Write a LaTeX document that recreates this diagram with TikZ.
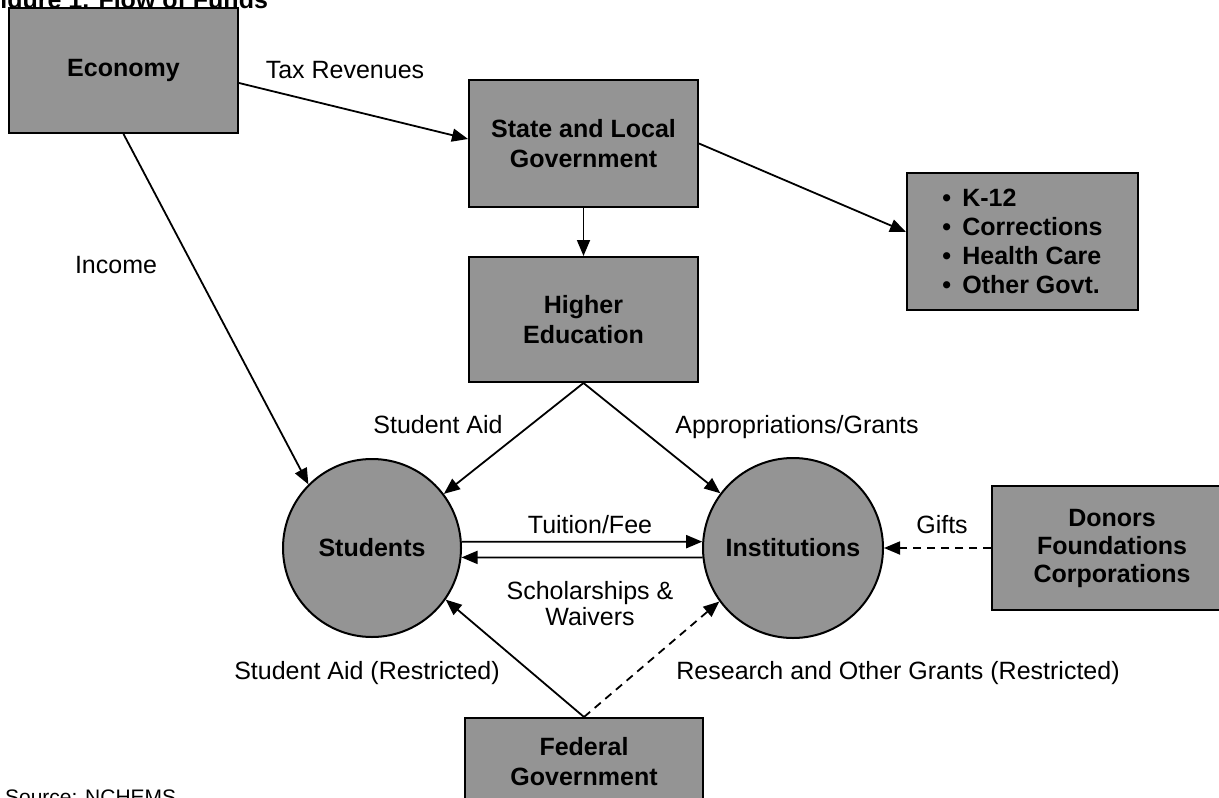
\documentclass[tikz,border=0pt]{standalone}
\usepackage{fontspec}
\setmainfont{Liberation Sans}
\usetikzlibrary{arrows.meta,positioning}
\definecolor{halftone}{gray}{0.58}

\begin{document}
\begin{tikzpicture}[x=0.5pt, y=-0.5pt, >={Triangle[length=8pt,width=6.5pt]},
  every node/.style={font=\fontsize{12.5}{15}\selectfont, align=center},
  fundbox/.style={draw, line width=1pt, fill=halftone, inner sep=2pt, font=\fontsize{12.5}{15}\selectfont\bfseries},
  party/.style={draw, circle, line width=1pt, fill=halftone, minimum size=89pt, inner sep=0pt, font=\fontsize{12.5}{15}\selectfont\bfseries},
  flow/.style={->, line width=0.9pt},
  gift/.style={flow, dash pattern=on 4pt off 3pt}]
  \useasboundingbox (0,0) rectangle (1219,797);
  \clip (0,0) rectangle (1219,797);
  % title and source, cut by the page edge
  \node[anchor=base west, font=\fontsize{12.5}{15}\selectfont\bfseries] (title) at (-22,9) {Figure 1. Flow of Funds};
  \node[anchor=base west, font=\fontsize{10.5}{12}\selectfont] (source) at (-2,804) {Source: NCHEMS};
  % boxes
  \node[fundbox, minimum width=114.5pt, minimum height=62.5pt] (econ) at (123.5,70.5) {Economy};
  \node[fundbox, minimum width=114.5pt, minimum height=63.5pt] (state) at (583.5,143.5) {State and Local\\Government};
  \node[fundbox, minimum width=114.5pt, minimum height=62.5pt, below=24pt of state] (higher) {Higher\\Education};
  \node[fundbox, minimum width=115.5pt, minimum height=68.5pt, align=left, font=\fontsize{12.5}{14.5}\selectfont\bfseries] (other) at (1022.5,241.5)
    {\makebox[10pt][l]{\textbullet}K-12\\\makebox[10pt][l]{\textbullet}Corrections\\\makebox[10pt][l]{\textbullet}Health Care\\\makebox[10pt][l]{\textbullet}Other Govt.};
  \node[fundbox, minimum width=120pt, minimum height=62pt, font=\fontsize{12.5}{14}\selectfont\bfseries] (donors) at (1112,548) {Donors\\Foundations\\Corporations};
  \node[fundbox, minimum width=119pt, minimum height=44pt, anchor=north] (federal) at (584,717) {Federal\\Government};
  % circles
  \node[party] (students) at (372,548) {Students};
  \node[party, minimum size=90pt] (inst) at (793,548) {Institutions};
  % labels
  \node (taxlbl) at (345,70) {Tax Revenues};
  \node (inclbl) at (116,265) {Income};
  \node (aidlbl) at (438,425) {Student Aid};
  \node (applbl) at (797,427) {Appropriations/Grants};
  \node (tuitlbl) at (590,525) {Tuition/Fee};
  \node[font=\fontsize{12.5}{13}\selectfont] (schollbl) at (590,604) {Scholarships \&\\Waivers};
  \node (giftlbl) at (942,525) {Gifts};
  \node (fedaidlbl) at (367,673) {Student Aid (Restricted)};
  \node (reslbl) at (898,673) {Research and Other Grants (Restricted)};
  % flows
  \draw[flow] ([yshift=-6.25pt]econ.east) -- ([yshift=2.25pt]state.west);
  \draw[flow] (econ.south) -- (students.135);
  \draw[flow] (state.south) -- (higher.north);
  \draw[flow] (state.east) -- ([yshift=4.75pt]other.west);
  \draw[flow] (higher.south) -- (students.37);
  \draw[flow] (higher.south) -- (inst.143);
  \draw[flow] (students.4) -- (inst.176);
  \draw[flow] (inst.186) -- (students.-6);
  \draw[gift] (donors.west) -- (inst.east);
  \draw[flow] (federal.north) -- (students.-35);
  \draw[gift] (federal.north) -- (inst.216);
\end{tikzpicture}
\end{document}
